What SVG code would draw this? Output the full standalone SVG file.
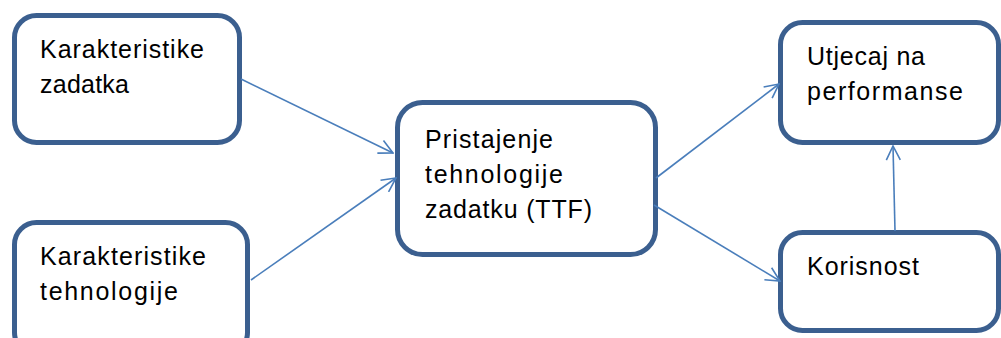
<svg xmlns="http://www.w3.org/2000/svg" width="1001" height="338" viewBox="0 0 1001 338">
<style>
.box{fill:#ffffff;stroke:#3b5f8f;stroke-width:5}
.lbl{font-family:"Liberation Sans",Arial,sans-serif;font-size:25px;fill:#000000}
.conn{stroke:#4a7ebb;stroke-width:1.6;fill:none}
</style>
<defs>
<marker id="arr" viewBox="0 0 16 16" refX="15" refY="8" markerWidth="16" markerHeight="16" markerUnits="userSpaceOnUse" orient="auto">
<path d="M1,1 L15,8 L1,15" fill="none" stroke="#4a7ebb" stroke-width="1.6"/>
</marker>
</defs>
<rect width="1001" height="338" fill="#ffffff"/>
<g id="n1">
<rect class="box" x="14.5" y="15.5" width="225" height="127" rx="22"/>
<text class="lbl" x="40" y="58" textLength="164" lengthAdjust="spacing">Karakteristike</text>
<text class="lbl" x="40" y="93" textLength="89" lengthAdjust="spacing">zadatka</text>
</g>
<g id="n2">
<rect class="box" x="14.5" y="222.5" width="233" height="132" rx="22"/>
<text class="lbl" x="40" y="265" textLength="166" lengthAdjust="spacing">Karakteristike</text>
<text class="lbl" x="40" y="300" textLength="138" lengthAdjust="spacing">tehnologije</text>
</g>
<g id="n3">
<rect class="box" x="397.5" y="102.5" width="258" height="152" rx="25"/>
<text class="lbl" x="425" y="148" textLength="128" lengthAdjust="spacing">Pristajenje</text>
<text class="lbl" x="425" y="183" textLength="138" lengthAdjust="spacing">tehnologije</text>
<text class="lbl" x="425" y="218" textLength="167" lengthAdjust="spacing">zadatku (TTF)</text>
</g>
<g id="n4">
<rect class="box" x="780.5" y="22.5" width="218" height="120" rx="22"/>
<text class="lbl" x="807" y="65" textLength="118" lengthAdjust="spacing">Utjecaj na</text>
<text class="lbl" x="807" y="100" textLength="156" lengthAdjust="spacing">performanse</text>
</g>
<g id="n5">
<rect class="box" x="780.5" y="232.5" width="218" height="98" rx="22"/>
<text class="lbl" x="807" y="275" textLength="112" lengthAdjust="spacing">Korisnost</text>
</g>
<g id="connectors">
<line class="conn" x1="241" y1="79" x2="393" y2="153" marker-end="url(#arr)"/>
<line class="conn" x1="251" y1="280" x2="396" y2="178" marker-end="url(#arr)"/>
<line class="conn" x1="656" y1="178" x2="779" y2="84" marker-end="url(#arr)"/>
<line class="conn" x1="654" y1="205" x2="780" y2="281" marker-end="url(#arr)"/>
<line class="conn" x1="895" y1="231" x2="893" y2="146" marker-end="url(#arr)"/>
</g>
</svg>
